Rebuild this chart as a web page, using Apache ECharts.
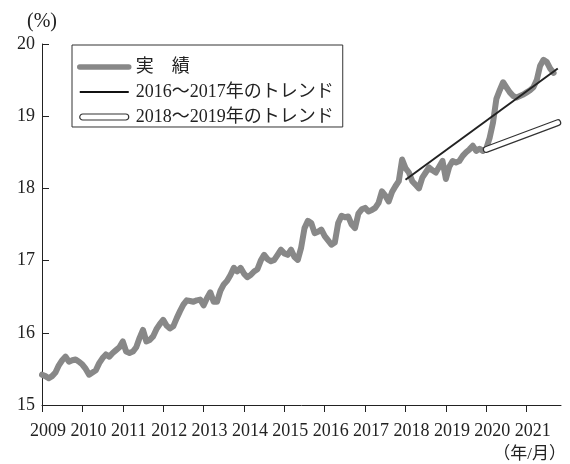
<!DOCTYPE html>
<html>
<head>
<meta charset="utf-8">
<script src="https://cdn.jsdelivr.net/npm/echarts@6/dist/echarts.min.js"></script>
<style>
  html, body { margin: 0; padding: 0; background: #fff; }
  #chart { width: 570px; height: 464px; }
</style>
</head>
<body>
<div id="chart"></div>
<script>
// 実績（月次, 2009年1月〜2021年9月）
var actual2009 = [15.42, 15.40, 15.37, 15.40, 15.45, 15.55, 15.62, 15.67, 15.60, 15.62, 15.63, 15.60]
var actual2010 = [15.56, 15.50, 15.42, 15.45, 15.48, 15.58, 15.65, 15.70, 15.67, 15.72, 15.76, 15.80]
var actual2011 = [15.88, 15.74, 15.72, 15.74, 15.80, 15.93, 16.04, 15.88, 15.90, 15.95, 16.05, 16.12]
var actual2012 = [16.18, 16.10, 16.06, 16.09, 16.20, 16.30, 16.39, 16.45, 16.44, 16.43, 16.45, 16.46]
var actual2013 = [16.38, 16.48, 16.56, 16.43, 16.43, 16.58, 16.67, 16.72, 16.80, 16.90, 16.85, 16.90]
var actual2014 = [16.82, 16.77, 16.80, 16.85, 16.88, 17.00, 17.08, 17.02, 16.99, 17.01, 17.08, 17.15]
var actual2015 = [17.10, 17.08, 17.15, 17.05, 17.01, 17.18, 17.45, 17.55, 17.52, 17.38, 17.40, 17.43]
var actual2016 = [17.34, 17.28, 17.22, 17.25, 17.52, 17.62, 17.60, 17.61, 17.50, 17.45, 17.65, 17.71]
var actual2017 = [17.73, 17.68, 17.70, 17.73, 17.80, 17.96, 17.90, 17.82, 17.95, 18.03, 18.10, 18.40]
var actual2018 = [18.28, 18.22, 18.10, 18.05, 18.00, 18.15, 18.22, 18.29, 18.25, 18.22, 18.30, 18.38]
var actual2019 = [18.13, 18.30, 18.38, 18.36, 18.38, 18.45, 18.50, 18.54, 18.59, 18.52, 18.55, 18.52]
var actual2020 = [18.55, 18.70, 18.91, 19.24, 19.36, 19.47, 19.40, 19.33, 19.28, 19.26, 19.28, 19.30]
var actual2021 = [19.33, 19.36, 19.40, 19.50, 19.70, 19.78, 19.75, 19.66, 19.60]

// トレンド線（始点・終点）[年, %]
var trend1617 = [[2018.0, 18.12], [2021.77, 19.66]]
var trend1819 = [[2020.0, 18.54], [2021.77, 18.91]]

// 目盛
var yearTicks = [2009, 2010, 2011, 2012, 2013, 2014, 2015, 2016, 2017, 2018, 2019, 2020, 2021]

var actualValues = [].concat(actual2009, actual2010, actual2011, actual2012, actual2013,
  actual2014, actual2015, actual2016, actual2017, actual2018, actual2019, actual2020, actual2021)
// 月次の横位置（2009年1月から1か月ずつ）
var actualData = actualValues.map(function (v, i) { return [2009 + i / 12, v] })

var serif = "'Liberation Serif', 'Noto Sans CJK JP', serif"
var ink = '#222'

var myChart = echarts.init(document.getElementById('chart'))
myChart.setOption({
  animation: false,
  grid: { left: 42, right: 9, top: 44, bottom: 59 },
  legend: {
    orient: 'vertical',
    left: 72,
    top: 45,
    width: 271,
    padding: [13, 9, 1, 5],
    itemGap: 7,
    itemWidth: 49,
    itemHeight: 6,
    borderColor: '#333',
    borderWidth: 1,
    borderRadius: 0,
    textStyle: { fontFamily: serif, fontSize: 18, color: ink, padding: [0, 0, 0, 2] },
    data: [
      { name: '実　績', itemStyle: { opacity: 0 }, lineStyle: { width: 5.5, color: '#888', cap: 'round' } },
      { name: '2016〜2017年のトレンド', itemStyle: { opacity: 0 }, lineStyle: { width: 2.2, color: '#111' } },
      {
        name: '2018〜2019年のトレンド',
        icon: 'path://M3,0 L46,0 A3,3 0 0 1 46,6 L3,6 A3,3 0 0 1 3,0 Z',
        itemStyle: { color: '#fff', borderColor: '#333', borderWidth: 1.2 }
      }
    ]
  },
  xAxis: {
    type: 'value',
    min: 2009,
    max: 2021.85,
    interval: 1,
    axisLine: { lineStyle: { color: ink, width: 1 } },
    axisTick: { show: true, inside: false, length: 7, lineStyle: { color: ink }, customValues: yearTicks },
    axisLabel: {
      customValues: yearTicks,
      fontFamily: serif, fontSize: 18, color: ink, margin: 17,
      padding: [0, 0, 0, 12],
      formatter: function (v) { return String(v) }
    },
    splitLine: { show: false }
  },
  yAxis: {
    type: 'value',
    min: 15,
    max: 20,
    interval: 1,
    name: '(%)',
    nameLocation: 'end',
    nameGap: 12,
    nameTextStyle: { fontFamily: serif, fontSize: 20, color: ink, align: 'center' },
    axisLine: { show: true, lineStyle: { color: ink, width: 1 } },
    axisTick: { show: true, inside: true, length: 7, lineStyle: { color: ink } },
    axisLabel: { fontFamily: serif, fontSize: 18, color: ink, margin: 7 },
    splitLine: { show: false }
  },
  graphic: [{
    type: 'text',
    right: 4,
    top: 446,
    style: { text: '（年/月）', font: '17px ' + serif, fill: ink }
  }],
  series: [
    {
      name: '実　績',
      type: 'line',
      data: actualData,
      symbol: 'none',
      lineStyle: { color: '#888', width: 6, cap: 'round', join: 'round' },
      z: 2
    },
    {
      name: '2016〜2017年のトレンド',
      type: 'line',
      data: trend1617,
      symbol: 'none',
      lineStyle: { color: ink, width: 2 },
      z: 3
    },
    {
      name: 'outline1819',
      type: 'line',
      data: trend1819,
      symbol: 'none',
      lineStyle: { color: '#333', width: 7, cap: 'round' },
      z: 4
    },
    {
      name: '2018〜2019年のトレンド',
      type: 'line',
      data: trend1819,
      symbol: 'none',
      lineStyle: { color: '#fff', width: 4.6, cap: 'round' },
      z: 5
    }
  ]
})
</script>
</body>
</html>
